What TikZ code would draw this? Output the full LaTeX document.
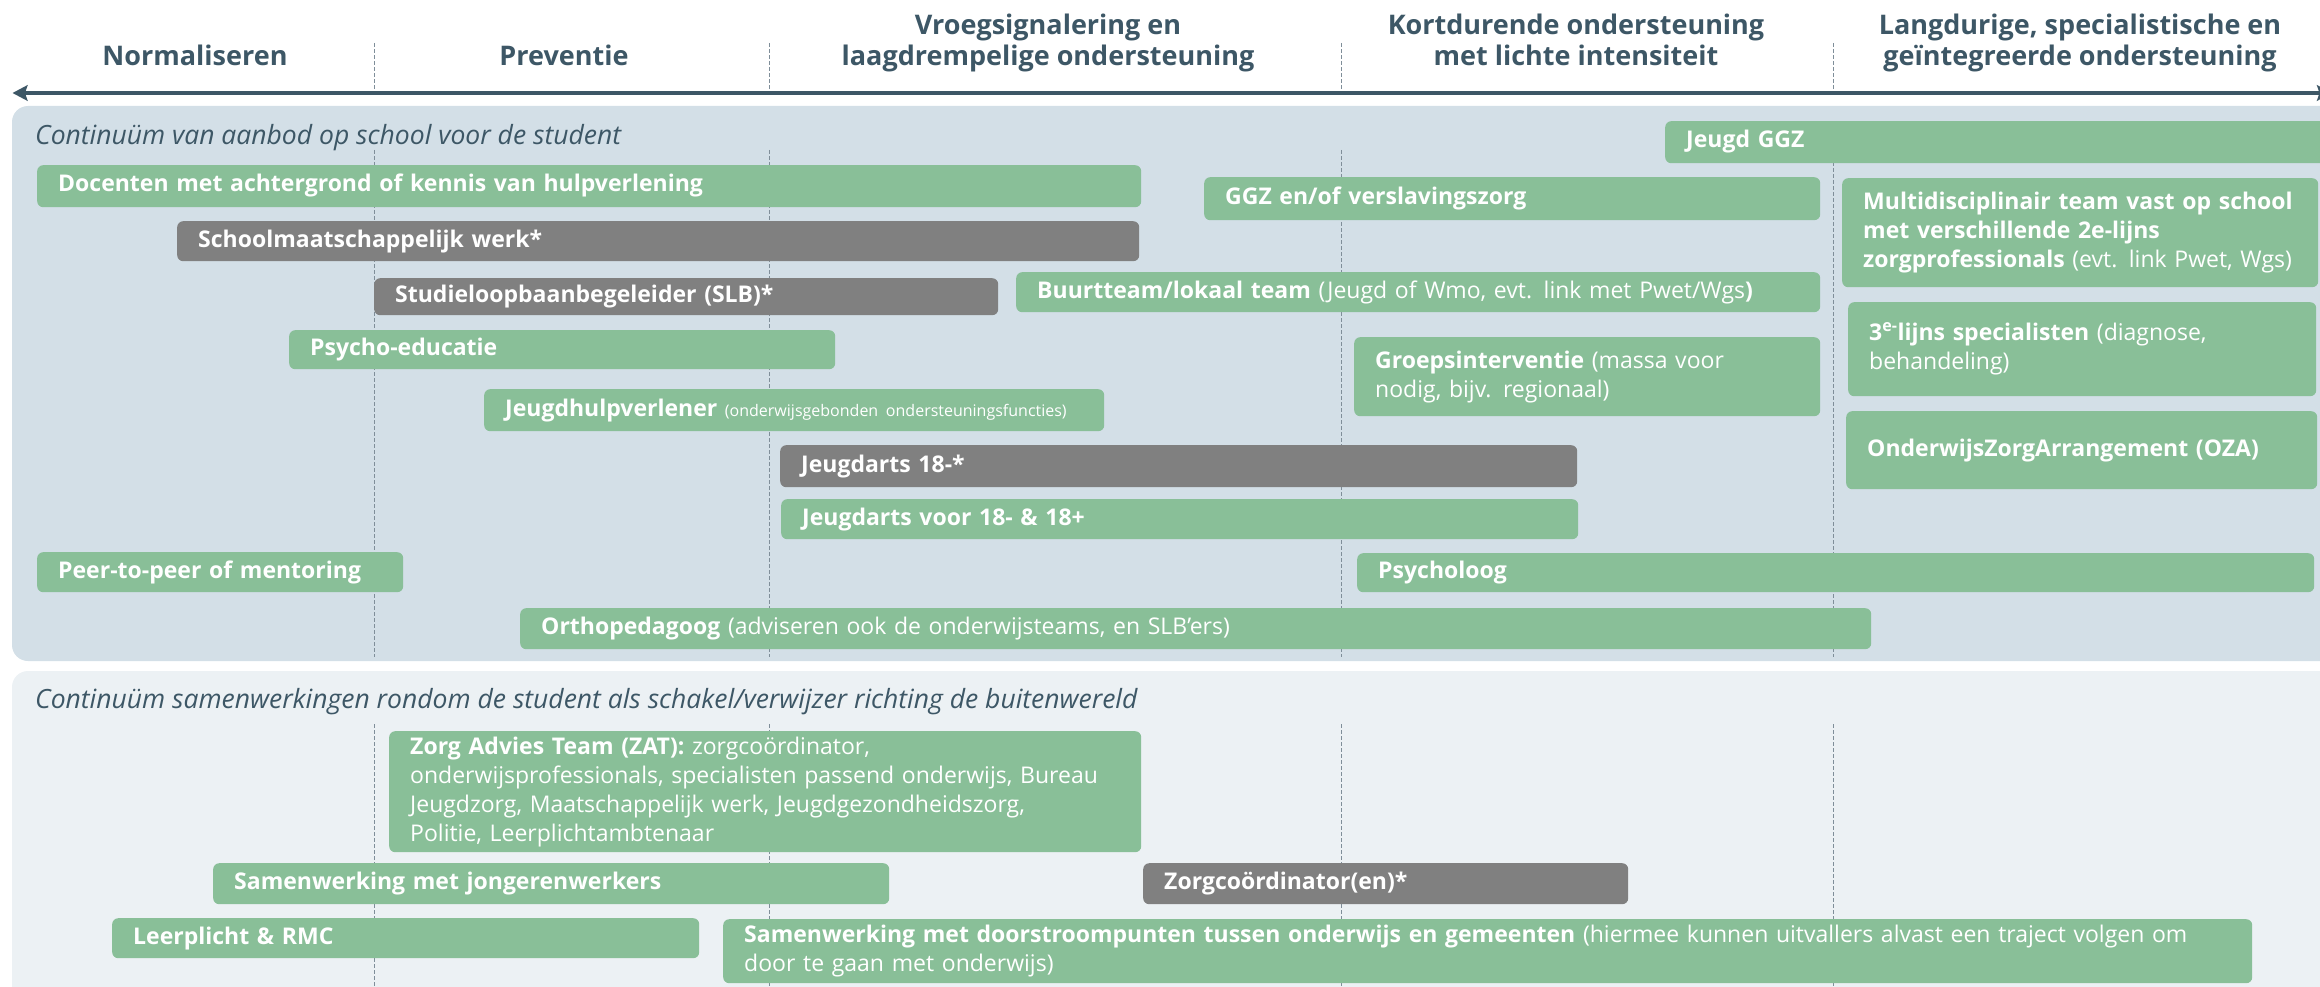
\documentclass[tikz,border=0pt]{standalone}
\usepackage{fontspec}
\setmainfont{Open Sans}
\usetikzlibrary{arrows.meta}
\definecolor{grn}{HTML}{89BF98}
\definecolor{gry}{HTML}{808080}
\definecolor{pnlA}{HTML}{D3DFE7}
\definecolor{pnlB}{HTML}{ECF1F4}
\definecolor{ink}{HTML}{3D5766}
\definecolor{dsh}{HTML}{7F8E99}
\newcommand\rgt[1]{{\mdseries #1}}
\begin{document}
\begin{tikzpicture}[x=1pt,y=-1pt,
  hdr/.style={anchor=base, inner sep=0pt, text=ink, font=\fontsize{27}{32}\selectfont\bfseries},
  ttl/.style={anchor=base west, inner sep=0pt, text=ink, font=\fontsize{26.5}{30}\selectfont\itshape},
  bx/.style 2 args={anchor=north west, rounded corners=6pt, inner xsep=21pt, inner ysep=0pt,
    align=left, text=white, text width=#1, minimum height=#2,
    font=\fontsize{23}{29}\selectfont\bfseries,
    execute at begin node=\strut, execute at end node=\strut},
  gb/.style={fill=grn}, kb/.style={fill=gry},
  dline/.style={draw=dsh, line width=1pt, dash pattern=on 4pt off 2pt}]
\useasboundingbox (0,0) rectangle (2320,987);
% panels
\fill[pnlA, rounded corners=16pt] (12,106) rectangle (2350,661);
\fill[pnlB, rounded corners=16pt] (12,671) rectangle (2350,1020);
% dashed column lines
\foreach \xx in {374,769,1341,1833} {
  \draw[dline] (\xx,43) -- (\xx,90);
  \draw[dline] (\xx,150) -- (\xx,657);
  \draw[dline] (\xx,724) -- (\xx,995);
}
% arrow
\coordinate (aL) at (12.5,93);
\coordinate (aR) at (2332,93);
\draw[ink, line width=4.5pt, {Stealth[length=15pt,width=15.5pt,inset=2.5pt]}-{Stealth[length=15pt,width=15.5pt,inset=2.5pt]}] (aL) -- (aR);
% headers
\node[hdr] (h1a) at (195,66) {Normaliseren};
\node[hdr] (h2a) at (564,66) {Preventie};
\node[hdr] (h3a) at (1048,35) {Vroegsignalering en};
\node[hdr] (h3b) at (1048,66) {laagdrempelige ondersteuning};
\node[hdr] (h4a) at (1576,35) {Kortdurende ondersteuning};
\node[hdr] (h4b) at (1576,66) {met lichte intensiteit};
\node[hdr] (h5a) at (2080,35) {Langdurige, specialistische en};
\node[hdr] (h5b) at (2080,66) {geïntegreerde ondersteuning};
% section titles
\node[ttl] (t1) at (35,145) {Continuüm van aanbod op school voor de student};
\node[ttl] (t2) at (35,708) {Continuüm samenwerkingen rondom de student als schakel/verwijzer richting de buitenwereld};
% top panel boxes
\node[bx={623}{42}, gb] (jggz) at (1665,121) {\mbox{Jeugd GGZ}};
\node[bx={1062}{42}, gb] (doc) at (37,165) {\mbox{Docenten met achtergrond of kennis van hulpverlening}};
\node[bx={574}{43}, gb] (ggz) at (1204,177) {\mbox{GGZ en/of verslavingszorg}};
\node[bx={434}{109}, gb] (mdt) at (1842,178) {\mbox{Multidisciplinair team vast op school}\\\mbox{met verschillende 2e-lijns}\\\mbox{zorgprofessionals \rgt{(evt. link Pwet, Wgs)}}};
\node[bx={920}{40}, kb] (smw) at (177,221) {\mbox{Schoolmaatschappelijk werk*}};
\node[bx={582}{37}, kb] (slb) at (374,278) {\mbox{Studieloopbaanbegeleider (SLB)*}};
\node[bx={762}{40}, gb] (buurt) at (1016,272) {\mbox{Buurtteam/lokaal team \rgt{(Jeugd of Wmo, evt. link met Pwet/Wgs})}};
\node[bx={504}{39}, gb] (psy) at (289,330) {\mbox{Psycho-educatie}};
\node[bx={426}{94}, gb] (derde) at (1848,302) {\mbox{3\textsuperscript{e-}lijns specialisten \rgt{(diagnose,}}\\\mbox{\rgt{behandeling)}}};
\node[bx={424}{79}, gb] (groep) at (1354,337) {\mbox{Groepsinterventie \rgt{(massa voor}}\\\mbox{\rgt{nodig, bijv. regionaal)}}};
\node[bx={578}{42}, gb] (jhv) at (484,389) {\mbox{Jeugdhulpverlener \rgt{\fontsize{16}{18}\selectfont(onderwijsgebonden ondersteuningsfuncties)}}};
\node[bx={429}{78}, gb] (oza) at (1846,411) {\mbox{OnderwijsZorgArrangement (OZA)}};
\node[bx={755}{42}, kb] (ja1) at (780,445) {\mbox{Jeugdarts 18-*}};
\node[bx={755}{40}, gb] (ja2) at (781,499) {\mbox{Jeugdarts voor 18- \& 18+}};
\node[bx={324}{40}, gb] (peer) at (37,552) {\mbox{Peer-to-peer of mentoring}};
\node[bx={915}{39}, gb] (psyl) at (1357,553) {\mbox{Psycholoog}};
\node[bx={1309}{41}, gb] (ortho) at (520,608) {\mbox{Orthopedagoog \rgt{(adviseren ook de onderwijsteams, en SLB’ers)}}};
% bottom panel boxes
\node[bx={710}{121}, gb] (zat) at (389,731) {\mbox{Zorg Advies Team (ZAT): \rgt{zorgcoördinator,}}\\\mbox{\rgt{onderwijsprofessionals, specialisten passend onderwijs, Bureau}}\\\mbox{\rgt{Jeugdzorg, Maatschappelijk werk, Jeugdgezondheidszorg,}}\\\mbox{\rgt{Politie, Leerplichtambtenaar}}};
\node[bx={634}{41}, gb] (jong) at (213,863) {\mbox{Samenwerking met jongerenwerkers}};
\node[bx={443}{41}, kb] (zc) at (1143,863) {\mbox{Zorgcoördinator(en)*}};
\node[bx={545}{40}, gb] (lp) at (112,918) {\mbox{Leerplicht \& RMC}};
\node[bx={1487}{64}, gb] (door) at (723,919) {\mbox{Samenwerking met doorstroompunten tussen onderwijs en gemeenten \rgt{(hiermee kunnen uitvallers alvast een traject volgen om}}\\\mbox{\rgt{door te gaan met onderwijs)}}};
\end{tikzpicture}
\end{document}
